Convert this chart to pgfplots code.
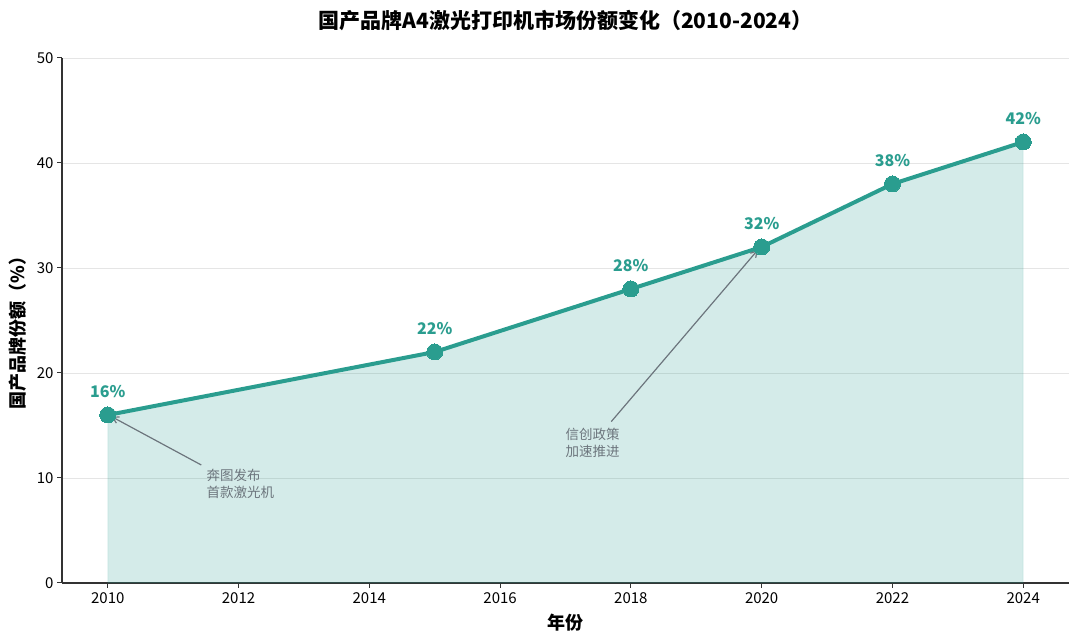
\documentclass[border=0pt]{standalone}
\usepackage{pgfplots}
\pgfplotsset{compat=1.18}
\usepackage{fontspec}
\setmainfont{Noto Sans CJK SC}
\usetikzlibrary{arrows.meta}
\definecolor{teal1}{HTML}{2A9D8F}
\definecolor{anngray}{HTML}{6C757D}
\definecolor{axisgray}{HTML}{333333}
\begin{document}
\begin{tikzpicture}
\useasboundingbox (-62pt,-61pt) rectangle (1018pt,583pt);
\begin{axis}[
  scale only axis,
  width=1007pt, height=525pt,
  xmin=2009.3, xmax=2024.7,
  ymin=0, ymax=50,
  xtick={2010,2012,2014,2016,2018,2020,2022,2024},
  ytick={0,10,20,30,40,50},
  xticklabels={2010,2012,2014,2016,2018,2020,2022,2024},
  yticklabels={0,10,20,30,40,50},
  axis x line*=bottom, axis y line*=left,
  axis line style={color=axisgray, line width=1.2pt},
  tick align=outside,
  major tick length=5pt,
  tick style={color=axisgray, line width=1pt},
  ymajorgrids,
  grid style={color=black!10, line width=0.9pt},
  ticklabel style={font=\fontsize{15}{17}\selectfont, text=black},
  xticklabel style={yshift=-1pt},
  clip=false,
]
\addplot[fill=teal1, fill opacity=0.2, draw=teal1, draw opacity=0.12, line width=1pt] coordinates {
  (2010,16) (2015,22) (2018,28) (2020,32) (2022,38) (2024,42)
} \closedcycle;
\addplot[color=teal1, line width=4pt, mark=*, mark size=8pt,
  mark options={fill=teal1, draw=teal1, line width=0pt},
  point meta=explicit symbolic,
  nodes near coords,
  every node near coord/.append style={anchor=south, inner sep=0pt, yshift=17pt,
    font=\fontsize{16}{18}\selectfont\bfseries, text=teal1},
] coordinates {
  (2010,16) [16\%]
  (2015,22) [22\%]
  (2018,28) [28\%]
  (2020,32) [32\%]
  (2022,38) [38\%]
  (2024,42) [42\%]
};
\draw[anngray, line width=1.2pt, -{Straight Barb[length=6pt, width=7pt]}]
  (axis cs:2011.43,11.24) -- (axis cs:2010.06,15.84);
\node[anchor=north west, inner sep=0pt, align=left, text=anngray,
  font=\fontsize{13.5}{17}\selectfont] at (axis cs:2011.51,10.86) {奔图发布\\首款激光机};
\draw[anngray, line width=1.2pt, -{Straight Barb[length=6pt, width=7pt]}]
  (axis cs:2017.70,15.37) -- (axis cs:2019.94,31.71);
\node[anchor=north west, inner sep=0pt, align=left, text=anngray,
  font=\fontsize{13.5}{17}\selectfont] at (axis cs:2017.0,14.73) {信创政策\\加速推进};
\node[font=\fontsize{21}{24}\selectfont\bfseries, text=black] at ([yshift=37pt]axis description cs:0.5,1) {国产品牌A4激光打印机市场份额变化（2010-2024）};
\node[font=\fontsize{18}{21}\selectfont\bfseries, text=black] at ([yshift=-40pt]axis description cs:0.5,0) {年份};
\node[rotate=90, font=\fontsize{18}{21}\selectfont\bfseries, text=black] at ([xshift=-44pt, yshift=-8pt]axis description cs:0,0.5) {国产品牌份额（\%）};
\end{axis}
\end{tikzpicture}
\end{document}
